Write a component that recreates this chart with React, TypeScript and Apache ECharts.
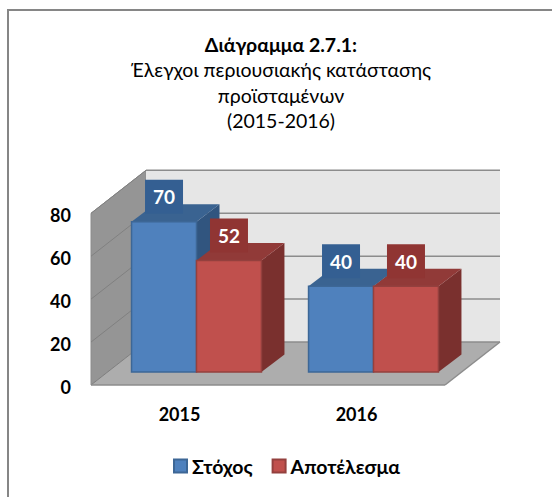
import React, { useEffect, useRef } from "react";
import * as echarts from "echarts";

const categories = ["2015", "2016"];
const seriesNames = ["Στόχος", "Αποτέλεσμα"];
const targetValues = [70, 40];
const resultValues = [52, 40];
const yTicks = [0, 20, 40, 60, 80];
const titleBold = "Διάγραμμα 2.7.1:";
const titleLines = ["Έλεγχοι περιουσιακής κατάστασης", "προϊσταμένων", "(2015-2016)"];

const FONT = "Lato, 'Noto Sans', sans-serif";
const WALL_DX = 55;
const WALL_DY = -43;
const INSET_DX = 17;
const INSET_DY = -13;
const BAR_DX = 23;
const BAR_DY = -17.5;
const BAR_RATIO = 0.367;

const blue = { front: "#4f81bd", border: "#3d6796", top: "#3a6391", side: "#31557f", box: "#345f92" };
const red = { front: "#c0504d", border: "#94403e", top: "#913a38", side: "#7a302e", box: "#903533" };

function plotEdges(api: any) {
  const band = api.size([1, 0])[0];
  const x0 = api.coord([0, 0])[0] - band / 2;
  const x1 = api.coord([categories.length - 1, 0])[0] + band / 2;
  return { x0, x1 };
}

function barItem(offset: number, pal: typeof blue) {
  return (params: any, api: any) => {
    const idx = api.value(0);
    const val = api.value(1);
    const [cx, y0] = api.coord([idx, 0]);
    const [, y1] = api.coord([idx, val]);
    const w = api.size([1, 0])[0] * BAR_RATIO;
    const x0 = cx + offset * w + INSET_DX;
    const x1 = x0 + w;
    const yb = y0 + INSET_DY;
    const yt = y1 + INSET_DY;
    const mid = (x0 + x1) / 2;
    const boxCy = yt - 25;
    return {
      type: "group",
      children: [
        {
          type: "polygon",
          shape: { points: [[x1, yb], [x1 + BAR_DX, yb + BAR_DY], [x1 + BAR_DX, yt + BAR_DY], [x1, yt]] },
          style: { fill: pal.side },
        },
        {
          type: "polygon",
          shape: { points: [[x0, yt], [x1, yt], [x1 + BAR_DX, yt + BAR_DY], [x0 + BAR_DX, yt + BAR_DY]] },
          style: { fill: pal.top },
        },
        {
          type: "rect",
          shape: { x: x0, y: yt, width: w, height: yb - yt },
          style: { fill: pal.front, stroke: pal.border, lineWidth: 1.5 },
        },
        {
          type: "rect",
          shape: { x: mid - 19, y: boxCy - 17, width: 38, height: 34 },
          style: { fill: pal.box },
        },
        {
          type: "text",
          style: {
            text: String(val),
            x: mid,
            y: boxCy,
            align: "center",
            verticalAlign: "middle",
            fill: "#ffffff",
            fontFamily: FONT,
            fontWeight: "bold",
            fontSize: 19,
          },
        },
      ],
    };
  };
}

function wallsItem(params: any, api: any) {
  const { x0, x1 } = plotEdges(api);
  const y0 = api.coord([0, 0])[1];
  const yTop = api.coord([0, 80])[1];
  return {
    type: "group",
    children: [
      {
        type: "polygon",
        shape: { points: [[x0, y0], [x0 + WALL_DX, y0 + WALL_DY], [x0 + WALL_DX, yTop + WALL_DY], [x0, yTop]] },
        style: { fill: "#959595", stroke: "#8c8c8c", lineWidth: 1 },
      },
      {
        type: "rect",
        shape: { x: x0 + WALL_DX, y: yTop + WALL_DY, width: x1 - x0, height: y0 - yTop },
        style: { fill: "#e6e6e6" },
      },
      {
        type: "polygon",
        shape: { points: [[x0, y0], [x1, y0], [x1 + WALL_DX, y0 + WALL_DY], [x0 + WALL_DX, y0 + WALL_DY]] },
        style: { fill: "#adadad" },
      },
    ],
  };
}

function gridItem(params: any, api: any) {
  const v = api.value(0);
  const { x0, x1 } = plotEdges(api);
  const y = api.coord([0, v])[1];
  const lineStyle = { stroke: "#8c8c8c", lineWidth: 1.5 };
  const children: any[] = [
    { type: "line", shape: { x1: x0, y1: y, x2: x0 + WALL_DX, y2: y + WALL_DY }, style: { stroke: "#808080", lineWidth: 1 } },
    {
      type: "line",
      shape: { x1: x0 + WALL_DX, y1: y + WALL_DY, x2: x1 + WALL_DX, y2: y + WALL_DY },
      style: lineStyle,
    },
  ];
  if (v === yTicks[0]) {
    children.push(
      { type: "line", shape: { x1: x0, y1: y, x2: x1, y2: y }, style: lineStyle },
      { type: "line", shape: { x1: x1, y1: y, x2: x1 + WALL_DX, y2: y + WALL_DY }, style: lineStyle }
    );
  }
  return { type: "group", children };
}

export default function App() {
  const ref = useRef<HTMLDivElement>(null);
  useEffect(() => {
    const chart = echarts.init(ref.current!, undefined, { renderer: "svg" });
    chart.setOption({
      animation: false,
      backgroundColor: "#ffffff",
      title: {
        text: [`{b|${titleBold}}`, ...titleLines.map((l) => `{n|${l}}`)].join("\n"),
        left: 276,
        top: 26,
        textAlign: "center",
        textStyle: {
          rich: {
            b: { fontFamily: FONT, fontWeight: "bold", fontSize: 19.5, color: "#000", lineHeight: 26 },
            n: { fontFamily: FONT, fontWeight: "normal", fontSize: 19.5, color: "#000", lineHeight: 25.5 },
          },
        },
      },
      grid: { left: 91, top: 213.3, width: 354, height: 171.7 },
      xAxis: {
        type: "category",
        data: categories,
        axisLine: { show: false },
        axisTick: { show: false },
        axisLabel: { margin: 20, color: "#000", fontFamily: FONT, fontWeight: "bold", fontSize: 18 },
      },
      yAxis: {
        type: "value",
        min: 0,
        max: 80,
        interval: 20,
        axisLine: { show: false },
        axisTick: { show: false },
        splitLine: { show: false },
        axisLabel: {
          margin: 20,
          formatter: "{a|{value}}",
          rich: {
            a: { color: "#000", fontFamily: FONT, fontWeight: "bold", fontSize: 18, padding: [3, 0, 0, 0] },
          },
        },
      },
      legend: {
        left: 168,
        top: 451,
        itemWidth: 13,
        itemHeight: 13,
        itemGap: 19,
        icon: "rect",
        data: seriesNames,
        textStyle: { color: "#000", fontFamily: FONT, fontWeight: "bold", fontSize: 19.5 },
      },
      graphic: [
        { type: "line", shape: { x1: 8, y1: 10, x2: 552, y2: 10 }, style: { stroke: "#868686", lineWidth: 2 }, silent: true },
        { type: "line", shape: { x1: 8, y1: 9, x2: 8, y2: 497 }, style: { stroke: "#868686", lineWidth: 2 }, silent: true },
      ],
      series: [
        { type: "custom", renderItem: wallsItem, data: [[0, 0]], encode: { x: 0, y: 1 }, silent: true, z: 1 },
        { type: "custom", renderItem: gridItem, data: yTicks.map((v) => [v]), encode: { y: 0 }, silent: true, z: 2 },
        {
          type: "custom",
          name: seriesNames[0],
          renderItem: barItem(-1, blue),
          data: targetValues.map((v, i) => [i, v]),
          encode: { x: 0, y: 1 },
          itemStyle: { color: blue.front, borderColor: blue.border, borderWidth: 1 },
          z: 3,
        },
        {
          type: "custom",
          name: seriesNames[1],
          renderItem: barItem(0, red),
          data: resultValues.map((v, i) => [i, v]),
          encode: { x: 0, y: 1 },
          itemStyle: { color: red.front, borderColor: red.border, borderWidth: 1 },
          z: 4,
        },
      ],
    });
    return () => chart.dispose();
  }, []);
  return (
    <div
      ref={ref}
      style={{ position: "fixed", left: 0, top: 0, width: 552, height: 497 }}
    />
  );
}
